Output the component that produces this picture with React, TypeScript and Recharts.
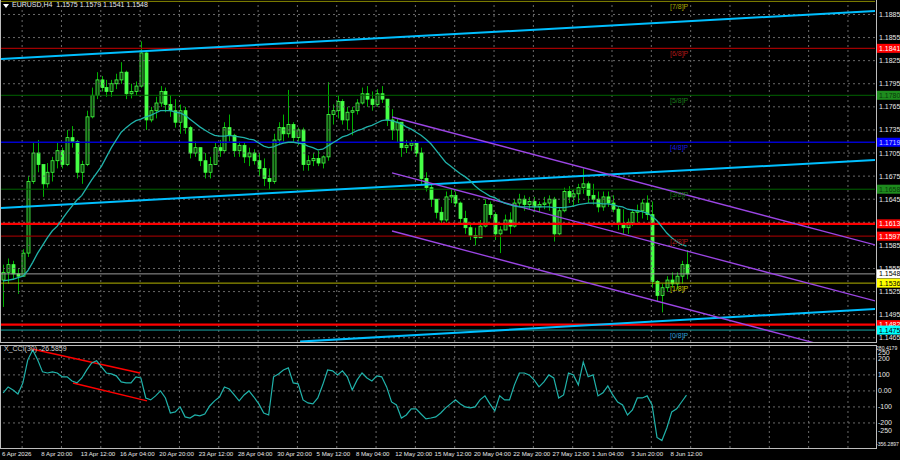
import { ComposedChart, Bar, Line, XAxis, YAxis, ReferenceLine } from 'recharts'

// EURUSD H4, one candle = two H4 bars
const highs = [
  1.1560, 1.1568, 1.1565, 1.1555, 1.1580, 1.1675, 1.1718, 1.1722, 1.1690, 1.1692,
  1.1700, 1.1718, 1.1712, 1.1735, 1.1740, 1.1722, 1.1695, 1.1760, 1.1790, 1.1810,
  1.1805, 1.1800, 1.1800, 1.1808, 1.1823, 1.1812, 1.1795, 1.1798, 1.1850, 1.1838,
  1.1765, 1.1778, 1.1792, 1.1790, 1.1780, 1.1775, 1.1768, 1.1765, 1.1740, 1.1720,
  1.1712, 1.1705, 1.1700, 1.1718, 1.1722, 1.1745, 1.1755, 1.1730, 1.1720, 1.1718,
  1.1712, 1.1710, 1.1705, 1.1698, 1.1685, 1.1730, 1.1745, 1.1755, 1.1787, 1.1745,
  1.1738, 1.1738, 1.1702, 1.1705, 1.1708, 1.1702, 1.1797, 1.1768, 1.1780, 1.1775,
  1.1765, 1.1765, 1.1775, 1.1790, 1.1792, 1.1785, 1.1788, 1.1792, 1.1775, 1.1762,
  1.1750, 1.1745, 1.1722, 1.1722, 1.1718, 1.1712, 1.1680, 1.1665, 1.1645, 1.1635,
  1.1655, 1.1658, 1.1655, 1.1642, 1.1630, 1.1615, 1.1608, 1.1618, 1.1645, 1.1642,
  1.1628, 1.1610, 1.1625, 1.1628, 1.1645, 1.1652, 1.1650, 1.1648, 1.1648, 1.1642,
  1.1648, 1.1650, 1.1648, 1.1635, 1.1660, 1.1662, 1.1658, 1.1665, 1.1685, 1.1668,
  1.1665, 1.1655, 1.1655, 1.1655, 1.1650, 1.1635, 1.1632, 1.1620, 1.1632, 1.1638,
  1.1645, 1.1650, 1.1642, 1.1540, 1.1535, 1.1545, 1.1550, 1.1550, 1.1565, 1.1579,
]
const lows = [
  1.1505, 1.1535, 1.1540, 1.1522, 1.1545, 1.1570, 1.1665, 1.1680, 1.1648, 1.1660,
  1.1668, 1.1685, 1.1685, 1.1688, 1.1712, 1.1672, 1.1665, 1.1688, 1.1750, 1.1775,
  1.1785, 1.1778, 1.1778, 1.1788, 1.1795, 1.1775, 1.1776, 1.1780, 1.1790, 1.1735,
  1.1745, 1.1750, 1.1765, 1.1758, 1.1752, 1.1738, 1.1730, 1.1730, 1.1698, 1.1700,
  1.1688, 1.1672, 1.1672, 1.1690, 1.1700, 1.1705, 1.1720, 1.1700, 1.1700, 1.1692,
  1.1688, 1.1690, 1.1675, 1.1662, 1.1658, 1.1665, 1.1715, 1.1720, 1.1725, 1.1718,
  1.1715, 1.1682, 1.1682, 1.1688, 1.1688, 1.1685, 1.1695, 1.1742, 1.1750, 1.1742,
  1.1735, 1.1728, 1.1755, 1.1768, 1.1765, 1.1760, 1.1765, 1.1770, 1.1740, 1.1722,
  1.1718, 1.1700, 1.1705, 1.1708, 1.1700, 1.1665, 1.1655, 1.1635, 1.1620, 1.1612,
  1.1615, 1.1640, 1.1635, 1.1612, 1.1600, 1.1592, 1.1585, 1.1595, 1.1608, 1.1620,
  1.1592, 1.1575, 1.1605, 1.1600, 1.1608, 1.1635, 1.1630, 1.1632, 1.1628, 1.1628,
  1.1632, 1.1630, 1.1590, 1.1598, 1.1628, 1.1640, 1.1635, 1.1640, 1.1652, 1.1640,
  1.1638, 1.1628, 1.1630, 1.1635, 1.1628, 1.1605, 1.1600, 1.1600, 1.1610, 1.1615,
  1.1620, 1.1618, 1.1530, 1.1512, 1.1498, 1.1525, 1.1530, 1.1528, 1.1535, 1.1541,
]
const closes = [
  1.1550, 1.1560, 1.1548, 1.1545, 1.1575, 1.1668, 1.1705, 1.1690, 1.1665, 1.1680,
  1.1695, 1.1708, 1.1690, 1.1725, 1.1720, 1.1680, 1.1690, 1.1752, 1.1780, 1.1800,
  1.1790, 1.1785, 1.1795, 1.1800, 1.1810, 1.1782, 1.1785, 1.1792, 1.1835, 1.1748,
  1.1760, 1.1770, 1.1785, 1.1768, 1.1760, 1.1745, 1.1760, 1.1738, 1.1705, 1.1712,
  1.1695, 1.1680, 1.1690, 1.1712, 1.1708, 1.1738, 1.1728, 1.1708, 1.1715, 1.1700,
  1.1705, 1.1695, 1.1685, 1.1672, 1.1668, 1.1722, 1.1738, 1.1730, 1.1742, 1.1725,
  1.1735, 1.1690, 1.1695, 1.1698, 1.1692, 1.1700, 1.1755, 1.1760, 1.1772, 1.1748,
  1.1758, 1.1760, 1.1770, 1.1782, 1.1775, 1.1768, 1.1782, 1.1775, 1.1748, 1.1735,
  1.1745, 1.1712, 1.1715, 1.1718, 1.1705, 1.1672, 1.1660, 1.1645, 1.1628, 1.1618,
  1.1648, 1.1650, 1.1640, 1.1620, 1.1608, 1.1598, 1.1595, 1.1610, 1.1638, 1.1625,
  1.1600, 1.1605, 1.1618, 1.1610, 1.1640, 1.1645, 1.1638, 1.1642, 1.1635, 1.1638,
  1.1640, 1.1645, 1.1600, 1.1630, 1.1655, 1.1648, 1.1652, 1.1660, 1.1665, 1.1650,
  1.1645, 1.1635, 1.1648, 1.1640, 1.1632, 1.1612, 1.1608, 1.1615, 1.1628, 1.1630,
  1.1640, 1.1625, 1.1538, 1.1520, 1.1530, 1.1540, 1.1535, 1.1545, 1.1560, 1.1548,
]
const firstOpen = 1.154

const maValues = [
  1.1539, 1.1540, 1.1541, 1.1543, 1.1545, 1.1552, 1.1563, 1.1575, 1.1585, 1.1595,
  1.1604, 1.1610, 1.1619, 1.1628, 1.1636, 1.1644, 1.1650, 1.1660, 1.1670, 1.1679,
  1.1688, 1.1700, 1.1712, 1.1722, 1.1732, 1.1738, 1.1743, 1.1747, 1.1749, 1.1752,
  1.1754, 1.1757, 1.1760, 1.1760, 1.1760, 1.1758, 1.1757, 1.1754, 1.1749, 1.1744,
  1.1739, 1.1735, 1.1731, 1.1728, 1.1727, 1.1727, 1.1728, 1.1727, 1.1726, 1.1725,
  1.1723, 1.1722, 1.1718, 1.1714, 1.1712, 1.1713, 1.1716, 1.1718, 1.1719, 1.1719,
  1.1718, 1.1717, 1.1714, 1.1712, 1.1709, 1.1710, 1.1714, 1.1718, 1.1722, 1.1726,
  1.1728, 1.1731, 1.1734, 1.1736, 1.1739, 1.1741, 1.1744, 1.1747, 1.1748, 1.1747,
  1.1745, 1.1743, 1.1739, 1.1736, 1.1732, 1.1728, 1.1723, 1.1717, 1.1709, 1.1701,
  1.1693, 1.1688, 1.1683, 1.1678, 1.1674, 1.1669, 1.1662, 1.1657, 1.1653, 1.1649,
  1.1647, 1.1643, 1.1640, 1.1638, 1.1636, 1.1635, 1.1635, 1.1635, 1.1635, 1.1635,
  1.1635, 1.1635, 1.1634, 1.1634, 1.1634, 1.1635, 1.1636, 1.1638, 1.1639, 1.1640,
  1.1640, 1.1640, 1.1639, 1.1639, 1.1638, 1.1636, 1.1635, 1.1632, 1.1631, 1.1630,
  1.1629, 1.1627, 1.1623, 1.1617, 1.1609, 1.1601, 1.1595, 1.1590, 1.1586, 1.1584,
]

const cciValues = [
  -12, 25, 6, -19, 50, 194, 256, 194, 119, 112,
  119, 112, 88, 88, 62, 50, 81, 131, 175, 188,
  150, 112, 106, 94, 56, 50, 50, 88, 81, -44,
  -56, -31, 0, -44, -138, -131, -100, -162, -169, -150,
  -156, -144, -94, -62, -38, 25, 12, -25, -62, -25,
  0, -38, -81, -138, -150, 88, 106, 131, 144, 50,
  44, -56, -75, -81, -44, 38, 131, 125, 100, 125,
  88, 6, 69, 112, 81, 62, 94, 88, 25, -69,
  -88, -169, -150, -112, -112, -144, -175, -169, -162, -138,
  -106, -81, -56, -81, -100, -106, -100, -56, -31, -81,
  -125, -31, -56, -56, 38, 112, 112, 100, 69, 25,
  56, 100, 81, -44, -25, 112, 100, 38, 181, 88,
  100, -31, -12, 31, -25, -69, -88, -150, -119, -44,
  -44, -31, -88, -290, -310, -231, -131, -112, -69, -26.6,
]

const timeLabels = [
  '6 Apr 2026', '8 Apr 20:00', '13 Apr 12:00', '16 Apr 04:00', '20 Apr 20:00',
  '23 Apr 12:00', '28 Apr 04:00', '30 Apr 20:00', '5 May 12:00', '8 May 04:00',
  '12 May 20:00', '15 May 12:00', '20 May 04:00', '22 May 20:00', '27 May 12:00',
  '1 Jun 04:00', '3 Jun 20:00', '8 Jun 12:00',
]

const priceTicks = [
  1.1885, 1.1855, 1.1825, 1.1795, 1.1765, 1.1735, 1.1705, 1.1675, 1.1645,
  1.1585, 1.1555, 1.1525, 1.1495, 1.1465,
]
const priceGrid = [...priceTicks, 1.1615]

// Murrey math levels plus the extra horizontal lines
const levelPrices = [1.1902, 1.1841, 1.178, 1.1719, 1.1658, 1.1613, 1.1597, 1.1548, 1.1536, 1.1482, 1.1475]
const levelTags = ['[7/8]P', '[6/8]P', '[5/8]P', '[4/8]P', '[3/8]P', '', '[2/8]P', '', '[1/8]P', '', '[0/8]P']

const cciTicks = [280.4179, 250, 200, 100, 0, -100, -200, -250, -356.2897]
const cciGrid = [200, 100, 0, -100, -200]

// trend lines: [k1, price1, k2, price2]
const blueLines = [
  [-0.66, 1.18272, 177.4, 1.18895],
  [-0.66, 1.16336, 177.4, 1.1696],
  [60.4, 1.146, 177.4, 1.15024],
]
const purpleLines = [
  [79.1, 1.17518, 177.4, 1.15855],
  [79.1, 1.16791, 177.4, 1.15128],
  [79.1, 1.16037, 177.4, 1.14374],
]
// CCI divergence lines: [k1, cci1, k2, cci2]
const cciLines = [
  [5.85, 262, 27.83, 112],
  [14.2, 50, 29.25, -62],
]

const FONT = "'Liberation Sans', Arial, sans-serif"
const X_MIN = -0.45
const X_MAX = 177.35
const P_MIN = 1.14595
const P_MAX = 1.19025
const GRID_COLOR = '#6a6a6a'

const levelStyle: Record<number, { line: string; w: number; tag: string; box?: string; text?: string }> = {
  0: { line: '#8a8a00', w: 1, tag: '#a8a800' },
  1: { line: '#a00000', w: 1.2, tag: '#b01818', box: '#ff0000', text: '#ffffff' },
  2: { line: '#006400', w: 1, tag: '#1a7a1a', box: '#1e8c1e', text: '#0a3a0a' },
  3: { line: '#0000d0', w: 1.5, tag: '#1a1adf', box: '#0000ff', text: '#d0d0ff' },
  4: { line: '#006400', w: 1, tag: '#1a7a1a', box: '#1e8c1e', text: '#0a3a0a' },
  5: { line: '#ff0000', w: 2.2, tag: '#ff0000', box: '#ff0000', text: '#ffffff' },
  6: { line: '#900000', w: 1.2, tag: '#b01818', box: '#ff0000', text: '#ffffff' },
  7: { line: '#9a9a9a', w: 1, tag: '#aaaaaa', box: '#ffffff', text: '#000000' },
  8: { line: '#b4b400', w: 1, tag: '#c8c800', box: '#ffff00', text: '#000000' },
  9: { line: '#ff0000', w: 2.2, tag: '#ff0000', box: '#ff0000', text: '#ffffff' },
  10: { line: '#1aa3a3', w: 1, tag: '#2c9ad0', box: '#00ffff', text: '#000000' },
}

const rows = closes.map((c, i) => ({
  k: i,
  open: i === 0 ? firstOpen : closes[i - 1],
  high: highs[i],
  low: lows[i],
  close: c,
  ma: maValues[i],
  cci: cciValues[i],
}))

const gridX = Array.from({ length: 22 }, (_, n) => 3.85 + 8 * n)
const timeTickX = timeLabels.map((_, n) => 8 * n)

function Candle(props: any) {
  const { x, y, width, height, payload } = props
  if (x == null || y == null || height == null) return null
  const top = Math.min(y, y + height)
  const h = Math.abs(height)
  const { open, close, high, low } = payload
  const span = high - low || 1e-9
  const py = (p: number) => top + ((high - p) / span) * h
  const cx = Math.round(x + width / 2) + 0.5
  const yo = py(open)
  const yc = py(close)
  const bTop = Math.min(yo, yc)
  const bH = Math.max(1, Math.abs(yo - yc))
  const up = close >= open
  return (
    <g>
      <line x1={cx} x2={cx} y1={top} y2={top + h} stroke="#00b000" strokeWidth={1} />
      <rect
        x={cx - 1.5}
        y={bTop}
        width={3}
        height={bH}
        fill={up ? '#0a3a0a' : '#46ff46'}
        stroke="#46ff46"
        strokeWidth={0.8}
      />
    </g>
  )
}

function PriceTick(props: any) {
  const { y, payload } = props
  const v = payload.value
  const li = levelPrices.indexOf(v)
  if (li < 0) {
    return (
      <text x={879} y={y + 2.5} fill="#e8e8e8" fontSize={7} fontFamily={FONT}>
        {v.toFixed(4)}
      </text>
    )
  }
  const st = levelStyle[li]
  return (
    <g>
      {levelTags[li] && (
        <text x={670} y={y + 8} fill={st.tag} fontSize={7} fontFamily={FONT}>
          {levelTags[li]}
        </text>
      )}
      {st.box && (
        <g>
          <rect x={876} y={y - 4.5} width={24} height={9} fill={st.box} />
          <text x={879} y={y + 2.5} fill={st.text} fontSize={7} fontFamily={FONT}>
            {v.toFixed(4)}
          </text>
        </g>
      )}
    </g>
  )
}

function CciTick(props: any) {
  const { y, payload } = props
  const v = payload.value
  const edge = v > 270 || v < -300
  const label = v === 0 ? '0.00' : Number.isInteger(v) ? String(v) : v.toFixed(4)
  let dy = 2.5
  if (v > 270) dy = 3.5
  if (v === 250) dy = 4.5
  if (v < -300) dy = -2.5
  return (
    <text
      x={edge ? 876 : 878}
      y={y + dy}
      fill="#e8e8e8"
      fontSize={edge ? 5.1 : 7}
      fontFamily={FONT}
    >
      {label}
    </text>
  )
}

function TimeTick(props: any) {
  const { x, payload } = props
  const n = timeTickX.indexOf(payload.value)
  if (n < 0) return null
  return (
    <text x={x - 1.2} y={112} fill="#e8e8e8" fontSize={6.1} fontFamily={FONT}>
      {timeLabels[n]}
    </text>
  )
}

export default function App() {
  return (
    <div
      style={{
        position: 'fixed',
        left: 0,
        top: 0,
        width: 900,
        height: 460,
        background: '#000',
        overflow: 'hidden',
      }}
    >
      <div style={{ position: 'absolute', left: 0, top: 0 }}>
        <ComposedChart width={900} height={344} data={rows} margin={{ top: 1, right: 0, bottom: 2, left: 1 }}>
          <XAxis dataKey="k" type="number" domain={[X_MIN, X_MAX]} allowDataOverflow hide />
          <YAxis
            type="number"
            orientation="right"
            width={25}
            domain={[P_MIN, P_MAX]}
            allowDataOverflow
            ticks={[...priceTicks, ...levelPrices]}
            interval={0}
            tick={<PriceTick />}
            tickLine={false}
            axisLine={false}
          />
          {priceGrid.map((p) => (
            <ReferenceLine key={'pg' + p} y={p} stroke={GRID_COLOR} strokeDasharray="2 3" />
          ))}
          {gridX.map((g) => (
            <ReferenceLine key={'vg' + g} x={g} stroke={GRID_COLOR} strokeDasharray="2 3" />
          ))}
          {levelPrices.map((p, i) => (
            <ReferenceLine key={'lv' + p} y={p} stroke={levelStyle[i].line} strokeWidth={levelStyle[i].w} />
          ))}
          {blueLines.map((l, i) => (
            <ReferenceLine
              key={'bl' + i}
              segment={[{ x: l[0], y: l[1] }, { x: l[2], y: l[3] }]}
              stroke="#00bfff"
              strokeWidth={2}
              ifOverflow="hidden"
            />
          ))}
          {purpleLines.map((l, i) => (
            <ReferenceLine
              key={'pl' + i}
              segment={[{ x: l[0], y: l[1] }, { x: l[2], y: l[3] }]}
              stroke="#9b45e4"
              strokeWidth={1.3}
              ifOverflow="hidden"
            />
          ))}
          <Bar
            dataKey={(d: any) => [d.low, d.high]}
            barSize={3}
            shape={(p: any) => <Candle {...p} />}
            isAnimationActive={false}
          />
          <Line
            dataKey="ma"
            type="linear"
            stroke="#20b2aa"
            strokeWidth={1.3}
            dot={false}
            isAnimationActive={false}
          />
        </ComposedChart>
      </div>

      <div style={{ position: 'absolute', left: 0, top: 344 }}>
        <ComposedChart width={900} height={116} data={rows} margin={{ top: 2, right: 0, bottom: 0, left: 1 }}>
          <XAxis
            dataKey="k"
            type="number"
            domain={[X_MIN, X_MAX]}
            allowDataOverflow
            ticks={timeTickX}
            interval={0}
            tick={<TimeTick />}
            height={12}
            tickLine={false}
            axisLine={false}
          />
          <YAxis
            type="number"
            orientation="right"
            width={25}
            domain={[-356.2897, 280.4179]}
            allowDataOverflow
            ticks={cciTicks}
            interval={0}
            tick={<CciTick />}
            tickLine={false}
            axisLine={false}
          />
          {cciGrid.map((v) => (
            <ReferenceLine key={'cg' + v} y={v} stroke={GRID_COLOR} strokeDasharray="2 3" />
          ))}
          {gridX.map((g) => (
            <ReferenceLine key={'cv' + g} x={g} stroke={GRID_COLOR} strokeDasharray="2 3" />
          ))}
          {cciLines.map((l, i) => (
            <ReferenceLine
              key={'cl' + i}
              segment={[{ x: l[0], y: l[1] }, { x: l[2], y: l[3] }]}
              stroke="#ff0000"
              strokeWidth={1.5}
              ifOverflow="hidden"
            />
          ))}
          <Line
            dataKey="cci"
            type="linear"
            stroke="#20b2aa"
            strokeWidth={1.2}
            dot={false}
            isAnimationActive={false}
          />
        </ComposedChart>
      </div>

      {/* panel frames */}
      <div style={{ position: 'absolute', left: 0, top: 0, width: 875, height: 342, borderLeft: '1px solid #bdbdbd', borderRight: '1px solid #bdbdbd', borderBottom: '1px solid #bdbdbd', pointerEvents: 'none' }} />
      <div style={{ position: 'absolute', left: 0, top: 345, width: 875, height: 102, border: '1px solid #bdbdbd', pointerEvents: 'none' }} />

      <div style={{ position: 'absolute', left: 3, top: 4, width: 0, height: 0, borderLeft: '3px solid transparent', borderRight: '3px solid transparent', borderTop: '4px solid #ffffff' }} />
      <div style={{ position: 'absolute', left: 12, top: 1, fontFamily: FONT, fontSize: 7, color: '#e8e8e8', whiteSpace: 'pre' }}>
        {'EURUSD,H4  1.1575 1.1579 1.1541 1.1548'}
      </div>
      <div style={{ position: 'absolute', left: 4, top: 345, fontFamily: FONT, fontSize: 7, color: '#d0d0d0', whiteSpace: 'pre' }}>
        {'X_CCI(30) -26.5859'}
      </div>
    </div>
  )
}
